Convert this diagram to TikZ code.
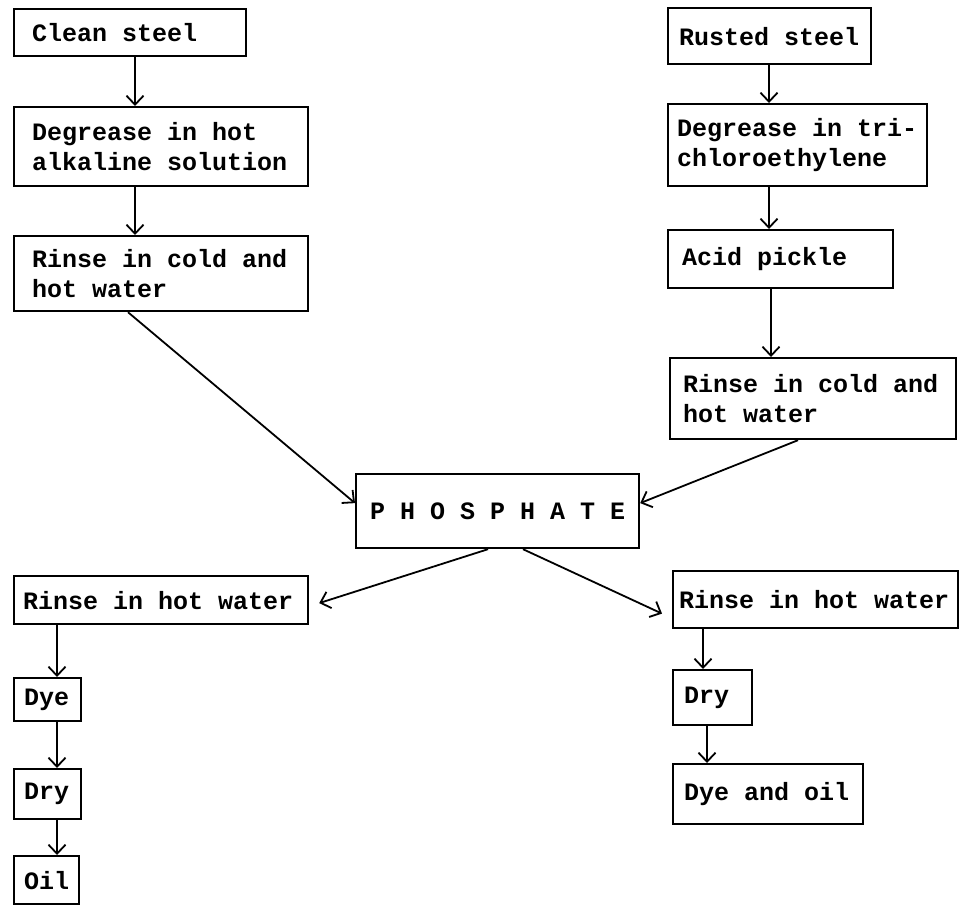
\documentclass[tikz,border=0pt]{standalone}
\usepackage{fontspec}
\usepackage{tikz}
\usetikzlibrary{arrows.meta}
\newfontfamily\typer{Liberation Mono}
\newcommand\typefont{\fontsize{25}{30}\selectfont\typer\bfseries}
\newcommand\monospaces{\spaceskip 15pt\relax\xspaceskip 15pt\relax\hyphenpenalty 10000\relax}

\begin{document}
\begin{tikzpicture}[
  x=1pt, y=-1pt,
  box/.style={rectangle, draw, line width=2.2pt, anchor=north west, align=left, inner ysep=0pt, font=\typefont, execute at begin node=\monospaces},
  arr/.style={draw, line width=1.8pt, -{Straight Barb[length=9pt, width=17pt, line width=1.8pt]}}
]
  \useasboundingbox (0,0) rectangle (960,905);

  % Nodes
  \node[box, inner xsep=18pt, text width=196pt, minimum height=47pt] (clean) at (13,8) {Clean steel};
  \node[box, inner xsep=18pt, text width=258pt, minimum height=79pt] (degA) at (13,106) {Degrease in hot\\alkaline solution};
  \node[box, inner xsep=18pt, text width=258pt, minimum height=75pt] (rinseA) at (13,235) {Rinse in cold and\\hot water};

  \node[box, inner xsep=11pt, text width=181pt, minimum height=56pt] (rusted) at (667,7) {Rusted steel};
  \node[box, inner xsep=9pt, text width=241pt, minimum height=82pt] (degB) at (667,103) {Degrease in tri-\\chloroethylene};
  \node[box, inner xsep=14pt, text width=197pt, minimum height=58pt] (acid) at (667,229) {Acid pickle};
  \node[box, inner xsep=13pt, text width=260pt, minimum height=81pt] (rinseB) at (669,357) {Rinse in cold and\\hot water};

  \node[box, align=center, minimum width=283pt, minimum height=74pt] (phos) at (355,473) {P H O S P H A T E};

  \node[box, inner xsep=9pt, text width=276pt, minimum height=48pt] (hotA) at (13,575) {Rinse in hot water};
  \node[box, inner xsep=10pt, text width=47pt, minimum height=43pt] (dyeA) at (13,677) {Dye};
  \node[box, inner xsep=10pt, text width=47pt, minimum height=50pt] (dryA) at (13,768) {Dry};
  \node[box, inner xsep=10pt, text width=45pt, minimum height=48pt] (oilA) at (13,855) {Oil};

  \node[box, inner xsep=6pt, text width=273pt, minimum height=57pt] (hotB) at (672,570) {Rinse in hot water};
  \node[box, inner xsep=11pt, text width=57pt, minimum height=55pt] (dryB) at (672,669) {Dry};
  \node[box, inner xsep=11pt, text width=168pt, minimum height=60pt] (dyeoil) at (672,763) {Dye and oil};

  % Flows
  \draw[arr] ([xshift=122pt]clean.south west) -- ([xshift=122pt]degA.north west);
  \draw[arr] ([xshift=122pt]degA.south west) -- ([xshift=122pt]rinseA.north west);
  \draw[arr] ([xshift=102pt]rusted.south west) -- ([xshift=102pt]degB.north west);
  \draw[arr] ([xshift=102pt]degB.south west) -- ([xshift=102pt]acid.north west);
  \draw[arr] ([xshift=104pt]acid.south west) -- ([xshift=102pt]rinseB.north west);

  \draw[arr] ([xshift=115pt]rinseA.south west) -- ([yshift=8pt]phos.west);
  \draw[arr] ([xshift=129pt]rinseB.south west) -- ([yshift=8pt]phos.east);
  \draw[arr] ([xshift=133pt]phos.south west) -- ([xshift=10pt, yshift=-3pt]hotA.east);
  \draw[arr] ([xshift=168pt]phos.south west) -- ([xshift=-10pt, yshift=-14pt]hotB.west);

  \draw[arr] ([xshift=44pt]hotA.south west) -- ([xshift=44pt]dyeA.north west);
  \draw[arr] ([xshift=44pt]dyeA.south west) -- ([xshift=44pt]dryA.north west);
  \draw[arr] ([xshift=44pt]dryA.south west) -- ([xshift=44pt]oilA.north west);
  \draw[arr] ([xshift=31pt]hotB.south west) -- ([xshift=31pt]dryB.north west);
  \draw[arr] ([xshift=35pt]dryB.south west) -- ([xshift=35pt]dyeoil.north west);
\end{tikzpicture}
\end{document}
